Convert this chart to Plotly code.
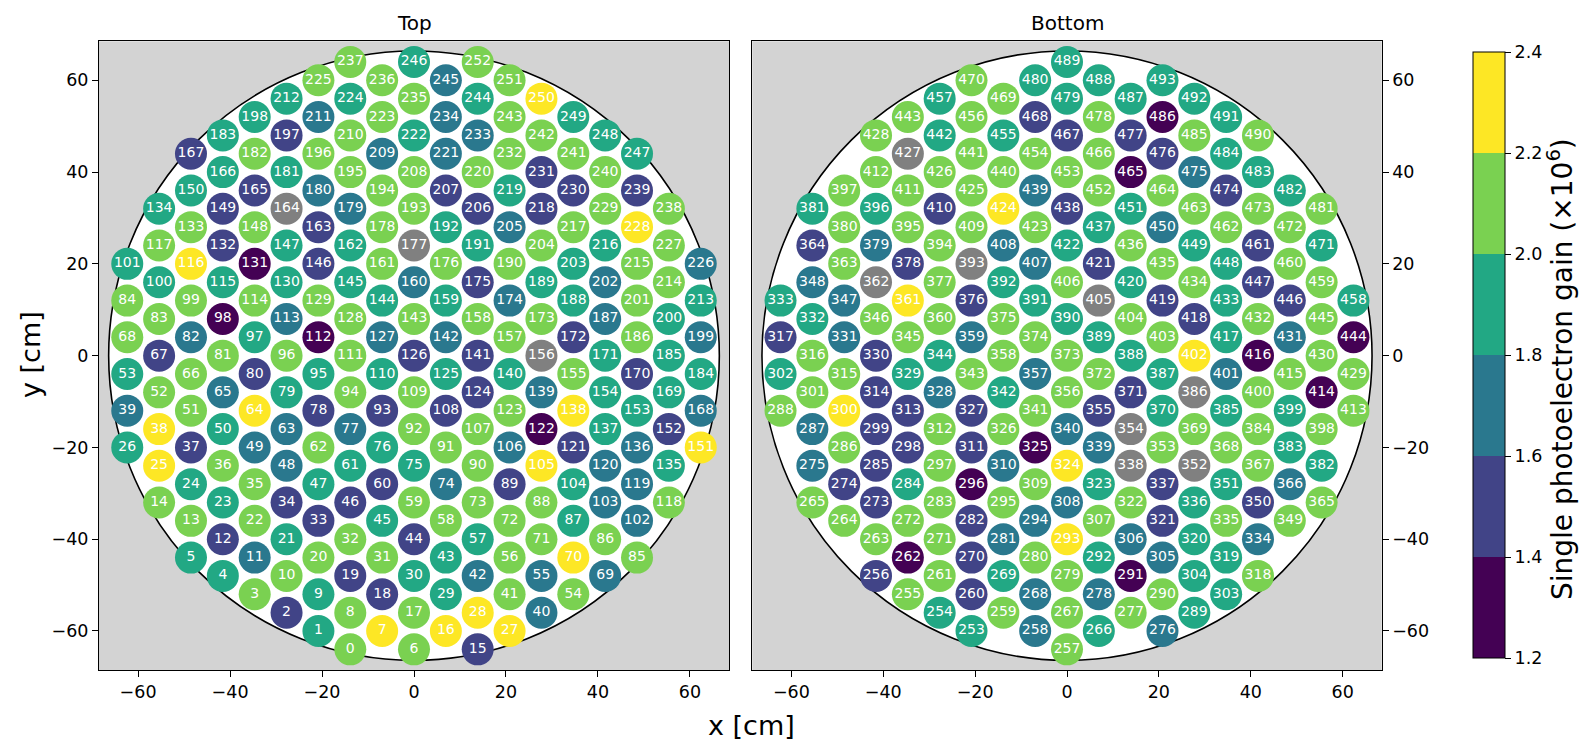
import math
import plotly.graph_objects as go

FONT = "DejaVu Sans"

# ---------------- data ----------------
# gain bins (x10^6): code -> representative (bin centre) value; 'X' = PMT switched off (grey)
GAIN_LEVELS = {"P": 1.3, "B": 1.5, "T": 1.7, "G": 1.9, "L": 2.1, "Y": 2.3}

# Top array, PMT 0..252 (10 per string)
TOP_GAIN_CODES = [
    "LGBLGGLYLG", "LTBLLBYLBB", "LGLGGYGYYG", "GLLBBLLBYT", "TLTGBGBGTT",
    "GLLGLTLGLL", "BGLTYTLBLT", "YLLLTGGTBG", "BLTLLLLGLB", "LLLBLGLGPL",
    "GGTTGYTLBL", "GLPTLGYLLT", "TBPLBGBTLL", "GPBLGGTGYT", "GBTLGGBGLB",
    "GYBGGLXLLG", "TLGBXBGBTG", "BGBLTBLXLT", "TGLGGGLTGG", "LGGLLLLBGT",
    "GLTGLTBBLT", "LTGGLLGLBG", "LTGLGLTLYL", "BBLTTLLLLB", "LLLLGTGGGG",
    "YLL",
]
# Bottom array, PMT 253..493
BOT_GAIN_CODES = [
    "GGLBLTLBLP", "LLLGLTGBLL", "BBTTLTLLTB", "LGBLTLGLPG", "YTLPLBBYLG",
    "GGTTLTLTBL", "BBLLBLGGBL", "GYPLBTGBTG", "GTLGBXTTLG", "LGLLTTLBGX",
    "LXBLTLTLYX", "LBLTLLLGBL", "LLLBLBTLGG", "GLGXGGGGGG", "XLLGLLGLTY",
    "LLXLTTLBLL", "LPLPGBBGBG", "LYLLXLLLTL", "GLLLGBTLLG", "LPLBBGGTGL",
    "LLGLGGLLBL", "LLPLBBLLGL", "LBTBBLGGLG", "GGLPGGGLGG", "G",
]

# hexagonal lattice rows (numbering runs up-left along each row)
PMT_PITCH = 8.0          # cm
TPC_RADIUS = 66.4        # cm
TOP_FIRST_ID = 0
TOP_ROW_START_COL = [-2, 0, 2, 3, 4, 5, 6, 7, 7, 8, 8, 9, 9, 9, 9, 9, 9, 8, 7]
TOP_ROW_START_HALF = [-16, -16, -16, -15, -14, -13, -12, -11, -9, -8, -6, -5, -3, -1, 1, 3, 5, 8, 11]
TOP_ROW_COUNT = [6, 9, 12, 13, 14, 15, 16, 17, 16, 17, 16, 17, 16, 15, 14, 13, 12, 9, 6]

BOT_FIRST_ID = 253
BOT_ROW_START_COL = [-3, 0, 1, 3, 4, 5, 6, 6, 7, 8, 8, 8, 9, 9, 9, 9, 8, 8, 6]
BOT_ROW_START_HALF = [-15, -16, -15, -15, -14, -13, -12, -10, -9, -8, -6, -4, -3, -1, 1, 3, 6, 8, 12]
BOT_ROW_COUNT = [4, 9, 10, 13, 14, 15, 16, 15, 16, 17, 16, 15, 16, 15, 14, 13, 10, 9, 4]

TICKS = [-60, -40, -20, 0, 20, 40, 60]
CBAR_TICKS = [1.2, 1.4, 1.6, 1.8, 2.0, 2.2, 2.4]
VIRIDIS6 = ["#440154", "#414487", "#2a788e", "#22a884", "#7ad151", "#fde725"]
OFF_COLOR = "#808080"

# ---------------- build ----------------
COL_DX = PMT_PITCH * math.sqrt(3) / 2
HALF_DY = PMT_PITCH / 2


def build(first_id, cols, halfs, counts, codes):
    code_str = "".join(codes)
    assert len(code_str) == sum(counts), (len(code_str), sum(counts))
    pts = []
    pid = first_id
    for c0, h0, n in zip(cols, halfs, counts):
        for k in range(n):
            pts.append((pid, (c0 - k) * COL_DX, (h0 + k) * HALF_DY, code_str[pid - first_id]))
            pid += 1
    return pts


top_pts = build(TOP_FIRST_ID, TOP_ROW_START_COL, TOP_ROW_START_HALF, TOP_ROW_COUNT, TOP_GAIN_CODES)
bot_pts = build(BOT_FIRST_ID, BOT_ROW_START_COL, BOT_ROW_START_HALF, BOT_ROW_COUNT, BOT_GAIN_CODES)

colorscale = []
for i, c in enumerate(VIRIDIS6):
    colorscale += [[i / 6, c], [(i + 1) / 6, c]]

W, H = 1580, 742
px = lambda v: v / W
py = lambda v: 1 - v / H

MARKER_SIZE = 32
TEXT_SIZE = 14
TICK_SIZE = 17.5

fig = go.Figure()

for idx, (pts, xa, ya) in enumerate([(top_pts, "x", "y"), (bot_pts, "x2", "y2")]):
    on = [p for p in pts if p[3] != "X"]
    off = [p for p in pts if p[3] == "X"]
    fig.add_trace(go.Scatter(
        x=[p[1] for p in on], y=[p[2] for p in on],
        text=[str(p[0]) for p in on],
        mode="markers+text", textposition="middle center",
        textfont=dict(family=FONT, size=TEXT_SIZE, color="white"),
        marker=dict(size=MARKER_SIZE, color=[GAIN_LEVELS[p[3]] for p in on],
                    colorscale=colorscale, cmin=1.2, cmax=2.4,
                    line=dict(width=0), showscale=(idx == 0),
                    colorbar=dict(
                        x=px(1463.3), xanchor="left", xref="paper",
                        y=py(355), yanchor="middle",
                        thickness=32, thicknessmode="pixels",
                        len=626.3, lenmode="pixels",
                        outlinewidth=1, outlinecolor="black",
                        tickvals=CBAR_TICKS, ticktext=[f"{v:.1f}" for v in CBAR_TICKS],
                        ticks="outside", ticklen=6, tickcolor="black",
                        tickfont=dict(family=FONT, size=TICK_SIZE, color="black"),
                    )),
        xaxis=xa, yaxis=ya, hoverinfo="skip", cliponaxis=False,
    ))
    fig.add_trace(go.Scatter(
        x=[p[1] for p in off], y=[p[2] for p in off],
        text=[str(p[0]) for p in off],
        mode="markers+text", textposition="middle center",
        textfont=dict(family=FONT, size=TEXT_SIZE, color="white"),
        marker=dict(size=MARKER_SIZE, color=OFF_COLOR, line=dict(width=0)),
        xaxis=xa, yaxis=ya, hoverinfo="skip", cliponaxis=False,
    ))

for xr, yr in [("x", "y"), ("x2", "y2")]:
    fig.add_shape(type="circle", xref=xr, yref=yr,
                  x0=-TPC_RADIUS, x1=TPC_RADIUS, y0=-TPC_RADIUS, y1=TPC_RADIUS,
                  fillcolor="white", line=dict(color="black", width=1.6), layer="below")

axis_common = dict(
    range=[-68.5, 68.5], tickvals=TICKS, ticks="outside", ticklen=6, tickwidth=1,
    tickcolor="black", showline=True, mirror=True, linecolor="black", linewidth=1,
    showgrid=False, zeroline=False,
    tickfont=dict(family=FONT, size=TICK_SIZE, color="black"),
)

fig.update_layout(
    width=W, height=H, margin=dict(l=0, r=0, t=0, b=0),
    paper_bgcolor="white", plot_bgcolor="#d3d3d3", showlegend=False,
    font=dict(family=FONT, color="black"),
    xaxis=dict(domain=[px(99), px(729)], anchor="y", **axis_common),
    yaxis=dict(domain=[py(670), py(41.3)], anchor="x", **axis_common),
    xaxis2=dict(domain=[px(752.3), px(1381.7)], anchor="y2", **axis_common),
    yaxis2=dict(domain=[py(670), py(41.3)], anchor="x2", side="right", **axis_common),
)

ann = [
    dict(text="Top", x=px(414), y=py(23), size=20, angle=0),
    dict(text="Bottom", x=px(1067), y=py(23), size=20, angle=0),
    dict(text="x [cm]", x=px(751), y=py(725), size=27, angle=0),
    dict(text="y [cm]", x=px(30), y=py(355), size=27, angle=-90),
    dict(text="Single photoelectron gain (×10<sup>6</sup>)", x=px(1560), y=py(369), size=28, angle=-90),
]
for a in ann:
    fig.add_annotation(text=a["text"], x=a["x"], y=a["y"], xref="paper", yref="paper",
                       xanchor="center", yanchor="middle", showarrow=False,
                       textangle=a["angle"], font=dict(family=FONT, size=a["size"], color="black"))

fig.write_html("out.html", config={"displayModeBar": False},
               post_script="document.body.style.margin='0';document.body.style.overflow='hidden';")
